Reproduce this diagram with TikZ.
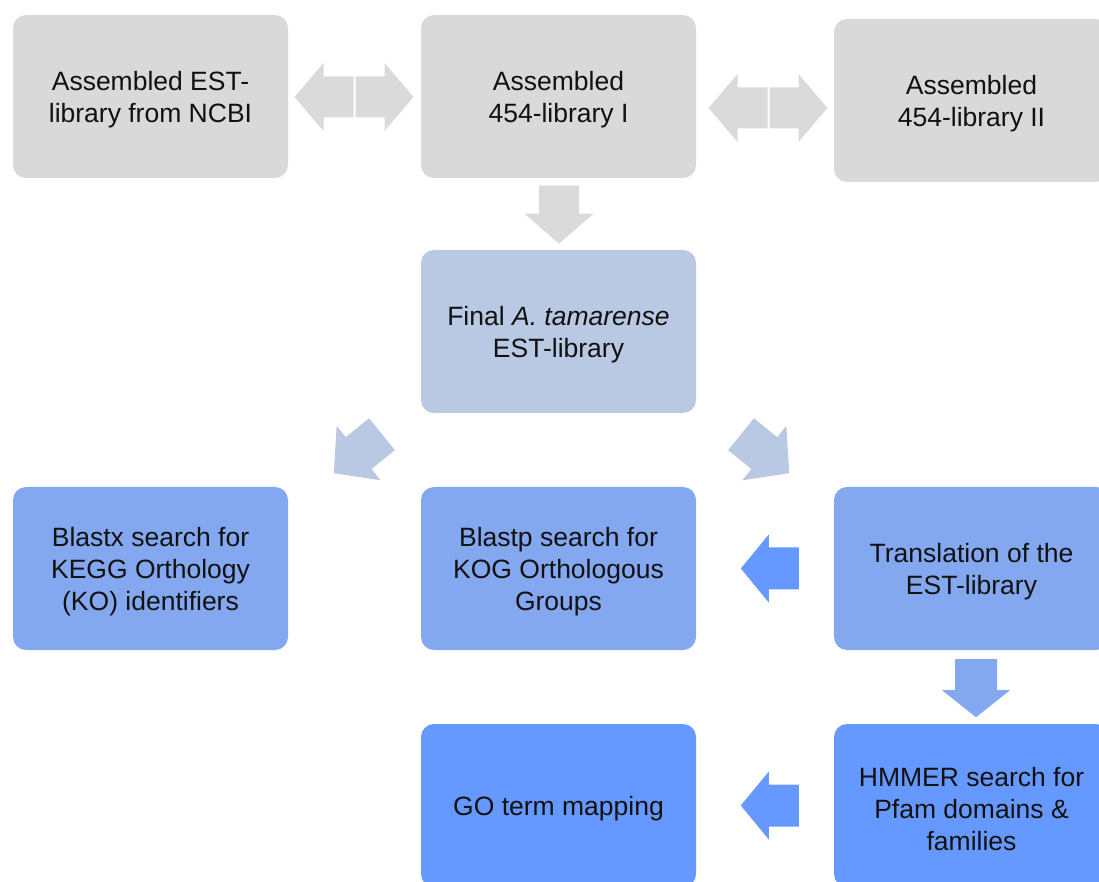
\documentclass[tikz,border=0pt]{standalone}
\usepackage{fontspec}
\setmainfont{Liberation Sans}
\usetikzlibrary{calc}
\definecolor{boxgray}{HTML}{D9D9D9}
\definecolor{arrgray}{HTML}{DADADA}
\definecolor{boxpale}{HTML}{B9C9E4}
\definecolor{boxmid}{HTML}{83A8F0}
\definecolor{boxdeep}{HTML}{6699FF}
\definecolor{txt}{HTML}{111111}
% tail coordinate, angle, length, head width, shaft width, head length, colour
\newcommand\blkarrow[7]{%
  \fill[#7, shift={(#1)}, rotate=#2] (0,-#5/2) -- (#3-#6,-#5/2) -- (#3-#6,-#4/2) -- (#3,0)
    -- (#3-#6,#4/2) -- (#3-#6,#5/2) -- (0,#5/2) -- cycle;}
\begin{document}
\begin{tikzpicture}[x=1pt,y=1pt,
  box/.style={rounded corners=13pt, minimum width=275pt, minimum height=163pt,
    inner sep=0pt},
  txtlab/.style={yshift=-3.5pt, align=center, text=txt, inner sep=0pt,
    font=\fontsize{26.5}{32}\selectfont}]
\useasboundingbox (0,0) rectangle (1099,881);
\clip (0,0) rectangle (1099,881);
% boxes
\node[box, fill=boxgray, label={[txtlab]center:{Assembled EST-\\library from NCBI}}] (A) at (150.5,784.5) {};
\node[box, fill=boxgray, label={[txtlab]center:{Assembled\\454-library I}}] (B) at (558.5,784.5) {};
\node[box, fill=boxgray, label={[txtlab]center:{Assembled\\454-library II}}] (C) at (971.5,780.5) {};
\node[box, fill=boxpale, label={[txtlab]center:{Final \textit{A. tamarense}\\EST-library}}] (D) at (558.5,549.5) {};
\node[box, fill=boxmid, label={[txtlab]center:{Blastx search for\\KEGG Orthology\\(KO) identifiers}}] (E) at (150.5,312.5) {};
\node[box, fill=boxmid, label={[txtlab]center:{Blastp search for\\KOG Orthologous\\Groups}}] (F) at (558.5,312.5) {};
\node[box, fill=boxmid, label={[txtlab]center:{Translation of the\\EST-library}}] (G) at (971.5,312.5) {};
\node[box, fill=boxdeep, label={[txtlab]center:{HMMER search for\\Pfam domains \&\\families}}] (H) at (971.5,75.5) {};
\node[box, fill=boxdeep, label={[txtlab]center:{GO term mapping}}] (I) at (558.5,75.5) {};
% arrow tails
\coordinate (m1) at ($(A.east)!0.5!(B.west)+(0,-0.5)$);
\coordinate (m2) at ($(B.east)!0.5!(C.west)+(3.5,-9.5)$);
\coordinate (t3) at ($(B.south)+(0.5,-7.5)$);
\coordinate (t4) at ($(D.south)+(-176.5,-21)$);
\coordinate (t5) at ($(D.south)+(182.5,-21)$);
\coordinate (t6) at ($(G.west)+(-35,0)$);
\coordinate (t7) at ($(G.south)+(4.5,-9)$);
\coordinate (t8) at ($(H.west)+(-35,0)$);
% arrows
\blkarrow{$(m1)+(-1,0)$}{180}{59}{68}{41}{29}{arrgray}
\blkarrow{$(m1)+(1,0)$}{0}{58}{68}{41}{29}{arrgray}
\blkarrow{$(m2)+(-1,0)$}{180}{59}{68}{41}{29}{arrgray}
\blkarrow{$(m2)+(1,0)$}{0}{58}{68}{41}{29}{arrgray}
\blkarrow{t3}{-90}{58}{69}{40}{30}{arrgray}
\blkarrow{t4}{219}{62}{70}{41}{32}{boxpale}
\blkarrow{t5}{-39}{62}{70}{41}{32}{boxpale}
\blkarrow{t6}{180}{58}{68}{42}{28}{boxdeep}
\blkarrow{t7}{-90}{58}{68}{42}{27}{boxmid}
\blkarrow{t8}{180}{58}{68}{42}{28}{boxdeep}
\end{tikzpicture}
\end{document}
